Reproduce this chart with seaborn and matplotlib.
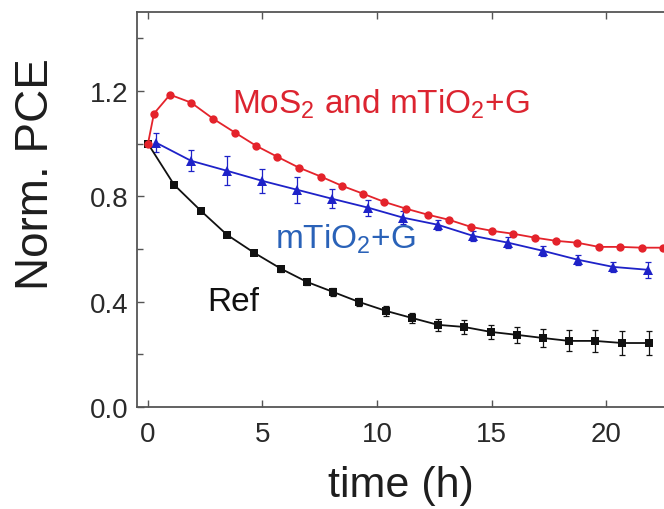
import matplotlib
matplotlib.use("Agg")
import matplotlib.pyplot as plt
import numpy as np
import pandas as pd
import seaborn as sns
from matplotlib.ticker import MultipleLocator

# --- data -------------------------------------------------------------
t_mos2 = [0.0, 0.26, 0.96, 1.88, 2.84, 3.80, 4.72, 5.63, 6.59, 7.55, 8.47, 9.39,
          10.31, 11.27, 12.23, 13.14, 14.10, 15.02, 15.94, 16.90, 17.82, 18.73,
          19.69, 20.61, 21.57, 22.49]
pce_mos2 = [1.000, 1.114, 1.186, 1.156, 1.095, 1.042, 0.992, 0.951, 0.909, 0.875,
            0.840, 0.810, 0.779, 0.753, 0.730, 0.711, 0.684, 0.669, 0.658, 0.643,
            0.631, 0.624, 0.608, 0.608, 0.605, 0.605]

t_tio2 = [0.35, 1.88, 3.45, 4.98, 6.51, 8.03, 9.61, 11.14, 12.66, 14.19, 15.72,
          17.25, 18.78, 20.31, 21.83]
pce_tio2 = [1.004, 0.935, 0.897, 0.859, 0.825, 0.791, 0.757, 0.719, 0.692, 0.650,
            0.624, 0.593, 0.559, 0.532, 0.521]
err_tio2 = [0.035, 0.040, 0.055, 0.045, 0.050, 0.035, 0.030, 0.025, 0.020, 0.020,
            0.020, 0.020, 0.020, 0.020, 0.030]

t_ref = [0.0, 1.14, 2.31, 3.45, 4.63, 5.81, 6.94, 8.08, 9.21, 10.39, 11.53, 12.66,
         13.80, 14.98, 16.11, 17.25, 18.38, 19.52, 20.70, 21.88]
pce_ref = [1.000, 0.844, 0.745, 0.654, 0.586, 0.525, 0.475, 0.437, 0.399, 0.365,
           0.338, 0.312, 0.304, 0.285, 0.274, 0.262, 0.251, 0.251, 0.243, 0.243]
err_ref = [0.0, 0.008, 0.008, 0.010, 0.010, 0.012, 0.012, 0.015, 0.015, 0.018,
           0.018, 0.022, 0.025, 0.028, 0.030, 0.035, 0.040, 0.042, 0.045, 0.045]

x_ticks = [0, 5, 10, 15, 20]
y_ticks = [0.0, 0.4, 0.8, 1.2]
y_tick_labels = ["0.0", "0.4", "0.8", "1.2"]

label_mos2 = r"MoS$_2$ and mTiO$_2$+G"
label_tio2 = r"mTiO$_2$+G"
label_ref = "Ref"

# --- style ------------------------------------------------------------
sns.set_theme(style="ticks")
plt.rcParams["font.family"] = ["Liberation Sans", "DejaVu Sans"]
plt.rcParams["mathtext.fontset"] = "custom"
plt.rcParams["mathtext.rm"] = "Liberation Sans"
plt.rcParams["mathtext.it"] = "Liberation Sans:italic"

RED = "#e4232b"
RED_TXT = "#dc2430"
BLUE = "#1e22c8"
BLUE_TXT = "#2a62b8"
BLACK = "#111111"
AXIS = "#555555"

fig = plt.figure(figsize=(6.64, 5.10), dpi=100)
ax = fig.add_axes([0.2063, 0.2, 0.7937, 0.7745])

df_ref = pd.DataFrame({"t": t_ref, "pce": pce_ref})
df_tio2 = pd.DataFrame({"t": t_tio2, "pce": pce_tio2})
df_mos2 = pd.DataFrame({"t": t_mos2, "pce": pce_mos2})

# error bars
ax.errorbar(t_ref, pce_ref, yerr=err_ref, fmt="none", ecolor=BLACK,
            elinewidth=0.9, capsize=2, capthick=0.9, zorder=2)
ax.errorbar(t_tio2, pce_tio2, yerr=err_tio2, fmt="none", ecolor=BLUE,
            elinewidth=0.9, capsize=2, capthick=0.9, zorder=3)

# curves
sns.lineplot(data=df_ref, x="t", y="pce", ax=ax, color=BLACK, lw=1.3,
             marker="s", markersize=5.2, markeredgewidth=0, zorder=3)
sns.lineplot(data=df_tio2, x="t", y="pce", ax=ax, color=BLUE, lw=1.3,
             marker="^", markersize=6.8, markeredgewidth=0, zorder=4)
sns.lineplot(data=df_mos2, x="t", y="pce", ax=ax, color=RED, lw=1.3,
             marker="o", markersize=6, markeredgewidth=0, zorder=5)

# curve labels
ax.text(3.67, 1.152, label_mos2, color=RED_TXT, fontsize=24, va="center", ha="left")
ax.text(5.55, 0.639, label_tio2, color=BLUE_TXT, fontsize=24, va="center", ha="left")
ax.text(2.58, 0.40, label_ref, color=BLACK, fontsize=24, va="center", ha="left")

# axes
ax.set_xlim(-0.48, 22.53)
ax.set_ylim(0, 1.5)
ax.set_xticks(x_ticks)
ax.set_yticks(y_ticks)
ax.set_yticklabels(y_tick_labels)
ax.yaxis.set_minor_locator(MultipleLocator(0.2))
ax.tick_params(which="both", direction="in", top=True, right=False,
               color=AXIS, width=1.0, labelsize=20, labelcolor="#2a2a2a")
ax.tick_params(which="major", length=5)
ax.tick_params(which="minor", length=4)
ax.tick_params(axis="x", pad=10)
ax.tick_params(axis="y", pad=6)
for side in ("left", "bottom", "top"):
    ax.spines[side].set_color(AXIS)
    ax.spines[side].set_linewidth(1.3)
    ax.spines[side].set_visible(True)
ax.spines["right"].set_visible(False)

ax.set_xlabel("time (h)", fontsize=31, color="#1e1e1e", labelpad=13)
ax.set_ylabel("Norm. PCE", fontsize=33, color="#1e1e1e")
ax.yaxis.set_label_coords(-0.149, 0.592)

fig.savefig("out.png", dpi=100)
